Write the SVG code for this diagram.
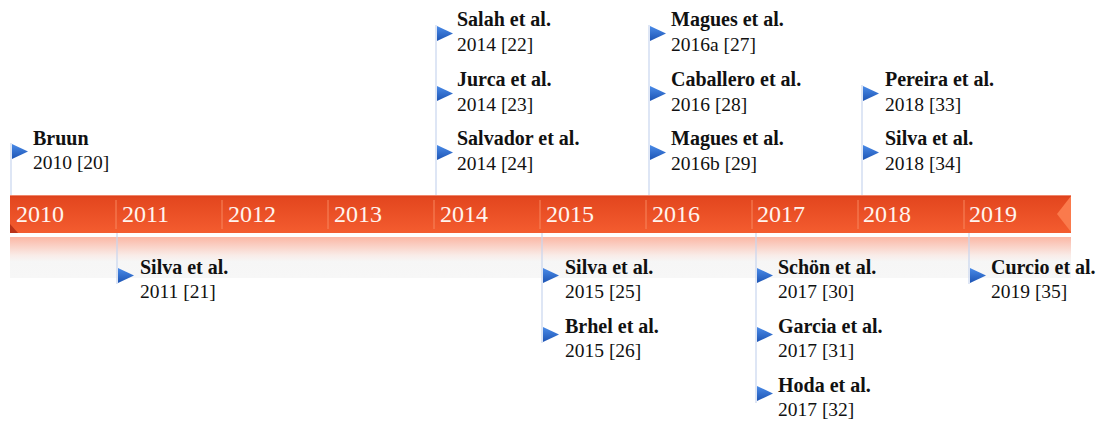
<svg xmlns="http://www.w3.org/2000/svg" width="1096" height="422" viewBox="0 0 1096 422">
<defs>
<linearGradient id="barG" x1="0" y1="0" x2="0" y2="1">
<stop offset="0" stop-color="#d93c1c"/>
<stop offset="0.08" stop-color="#e3471f"/>
<stop offset="1" stop-color="#f45c2f"/>
</linearGradient>
<linearGradient id="reflG" x1="0" y1="0" x2="0" y2="1">
<stop offset="0" stop-color="#fbb7a5"/>
<stop offset="0.45" stop-color="#f9ece8"/>
<stop offset="0.6" stop-color="#f6f6f6"/>
<stop offset="1" stop-color="#f7f7f7"/>
</linearGradient>
<linearGradient id="mkG" x1="0" y1="0" x2="0" y2="1">
<stop offset="0" stop-color="#4a8be8"/>
<stop offset="1" stop-color="#1d54b4"/>
</linearGradient>
<polygon id="mk" points="0,0 16,7.5 0,15" fill="url(#mkG)"/>
</defs>
<style>
.yr{font-family:"Liberation Serif","Times New Roman",serif;font-size:24px;fill:#fff4ee}
.nm{font-family:"Liberation Serif","Times New Roman",serif;font-size:20px;font-weight:bold;fill:#111}
.rf{font-family:"Liberation Serif","Times New Roman",serif;font-size:19.5px;fill:#111}
.stem{stroke:#c8d6ef;stroke-width:1.2;fill:none}
.div{stroke:#f7875e;stroke-width:1}
</style>
<rect width="1096" height="422" fill="#ffffff"/>
<g id="timeline">
<rect x="10" y="237" width="1061" height="41" fill="url(#reflG)"/>
<rect x="10" y="195" width="1061" height="38" fill="url(#barG)"/>
<line x1="10" y1="195.5" x2="1071" y2="195.5" stroke="#f0866a" stroke-width="1"/>
<polygon points="1057,214 1071,196 1071,232" fill="#fa7a4c"/>
<polygon points="10,224 10,233 18,233" fill="#b9331a"/>
<g class="div">
<line x1="116" y1="200" x2="116" y2="229"/>
<line x1="222" y1="200" x2="222" y2="229"/>
<line x1="328" y1="200" x2="328" y2="229"/>
<line x1="434" y1="200" x2="434" y2="229"/>
<line x1="540" y1="200" x2="540" y2="229"/>
<line x1="646" y1="200" x2="646" y2="229"/>
<line x1="752" y1="200" x2="752" y2="229"/>
<line x1="858" y1="200" x2="858" y2="229"/>
<line x1="964" y1="200" x2="964" y2="229"/>
</g>
<text class="yr" x="16" y="222">2010</text>
<text class="yr" x="122" y="222">2011</text>
<text class="yr" x="228" y="222">2012</text>
<text class="yr" x="334" y="222">2013</text>
<text class="yr" x="440" y="222">2014</text>
<text class="yr" x="546" y="222">2015</text>
<text class="yr" x="652" y="222">2016</text>
<text class="yr" x="757" y="222">2017</text>
<text class="yr" x="863" y="222">2018</text>
<text class="yr" x="969" y="222">2019</text>
</g>
<g id="connectors">
<line class="stem" x1="11" y1="143" x2="11" y2="195"/>
<line class="stem" x1="436" y1="25" x2="436" y2="195"/>
<line class="stem" x1="649" y1="25" x2="649" y2="195"/>
<line class="stem" x1="862" y1="85" x2="862" y2="195"/>
<line class="stem" x1="117" y1="233" x2="117" y2="284"/>
<line class="stem" x1="542" y1="233" x2="542" y2="343"/>
<line class="stem" x1="756" y1="233" x2="756" y2="403"/>
<line class="stem" x1="969" y1="233" x2="969" y2="284"/>
</g>
<g id="bruun"><use href="#mk" x="12" y="144"/><text class="nm" x="33" y="145">Bruun</text><text class="rf" x="33" y="169">2010 [20]</text></g>
<g id="silva2011"><use href="#mk" x="118" y="268"/><text class="nm" x="140" y="274">Silva et al.</text><text class="rf" x="140" y="298">2011 [21]</text></g>
<g id="salah"><use href="#mk" x="437" y="26"/><text class="nm" x="457" y="26">Salah et al.</text><text class="rf" x="457" y="51">2014 [22]</text></g>
<g id="jurca"><use href="#mk" x="437" y="86"/><text class="nm" x="457" y="86">Jurca et al.</text><text class="rf" x="457" y="111">2014 [23]</text></g>
<g id="salvador"><use href="#mk" x="437" y="145"/><text class="nm" x="457" y="145">Salvador et al.</text><text class="rf" x="457" y="170">2014 [24]</text></g>
<g id="silva2015"><use href="#mk" x="543" y="268"/><text class="nm" x="565" y="274">Silva et al.</text><text class="rf" x="565" y="298">2015 [25]</text></g>
<g id="brhel"><use href="#mk" x="543" y="327"/><text class="nm" x="565" y="333">Brhel et al.</text><text class="rf" x="565" y="357">2015 [26]</text></g>
<g id="magues2016a"><use href="#mk" x="650" y="26"/><text class="nm" x="671" y="26">Magues et al.</text><text class="rf" x="671" y="51">2016a [27]</text></g>
<g id="caballero"><use href="#mk" x="650" y="86"/><text class="nm" x="671" y="86">Caballero et al.</text><text class="rf" x="671" y="111">2016 [28]</text></g>
<g id="magues2016b"><use href="#mk" x="650" y="145"/><text class="nm" x="671" y="145">Magues et al.</text><text class="rf" x="671" y="170">2016b [29]</text></g>
<g id="schon"><use href="#mk" x="757" y="268"/><text class="nm" x="778" y="274">Schön et al.</text><text class="rf" x="778" y="298">2017 [30]</text></g>
<g id="garcia"><use href="#mk" x="757" y="327"/><text class="nm" x="778" y="333">Garcia et al.</text><text class="rf" x="778" y="357">2017 [31]</text></g>
<g id="hoda"><use href="#mk" x="757" y="386"/><text class="nm" x="778" y="392">Hoda et al.</text><text class="rf" x="778" y="416">2017 [32]</text></g>
<g id="pereira"><use href="#mk" x="863" y="86"/><text class="nm" x="885" y="86">Pereira et al.</text><text class="rf" x="885" y="111">2018 [33]</text></g>
<g id="silva2018"><use href="#mk" x="863" y="145"/><text class="nm" x="885" y="145">Silva et al.</text><text class="rf" x="885" y="170">2018 [34]</text></g>
<g id="curcio"><use href="#mk" x="970" y="268"/><text class="nm" x="991" y="274">Curcio et al.</text><text class="rf" x="991" y="298">2019 [35]</text></g>
</svg>
